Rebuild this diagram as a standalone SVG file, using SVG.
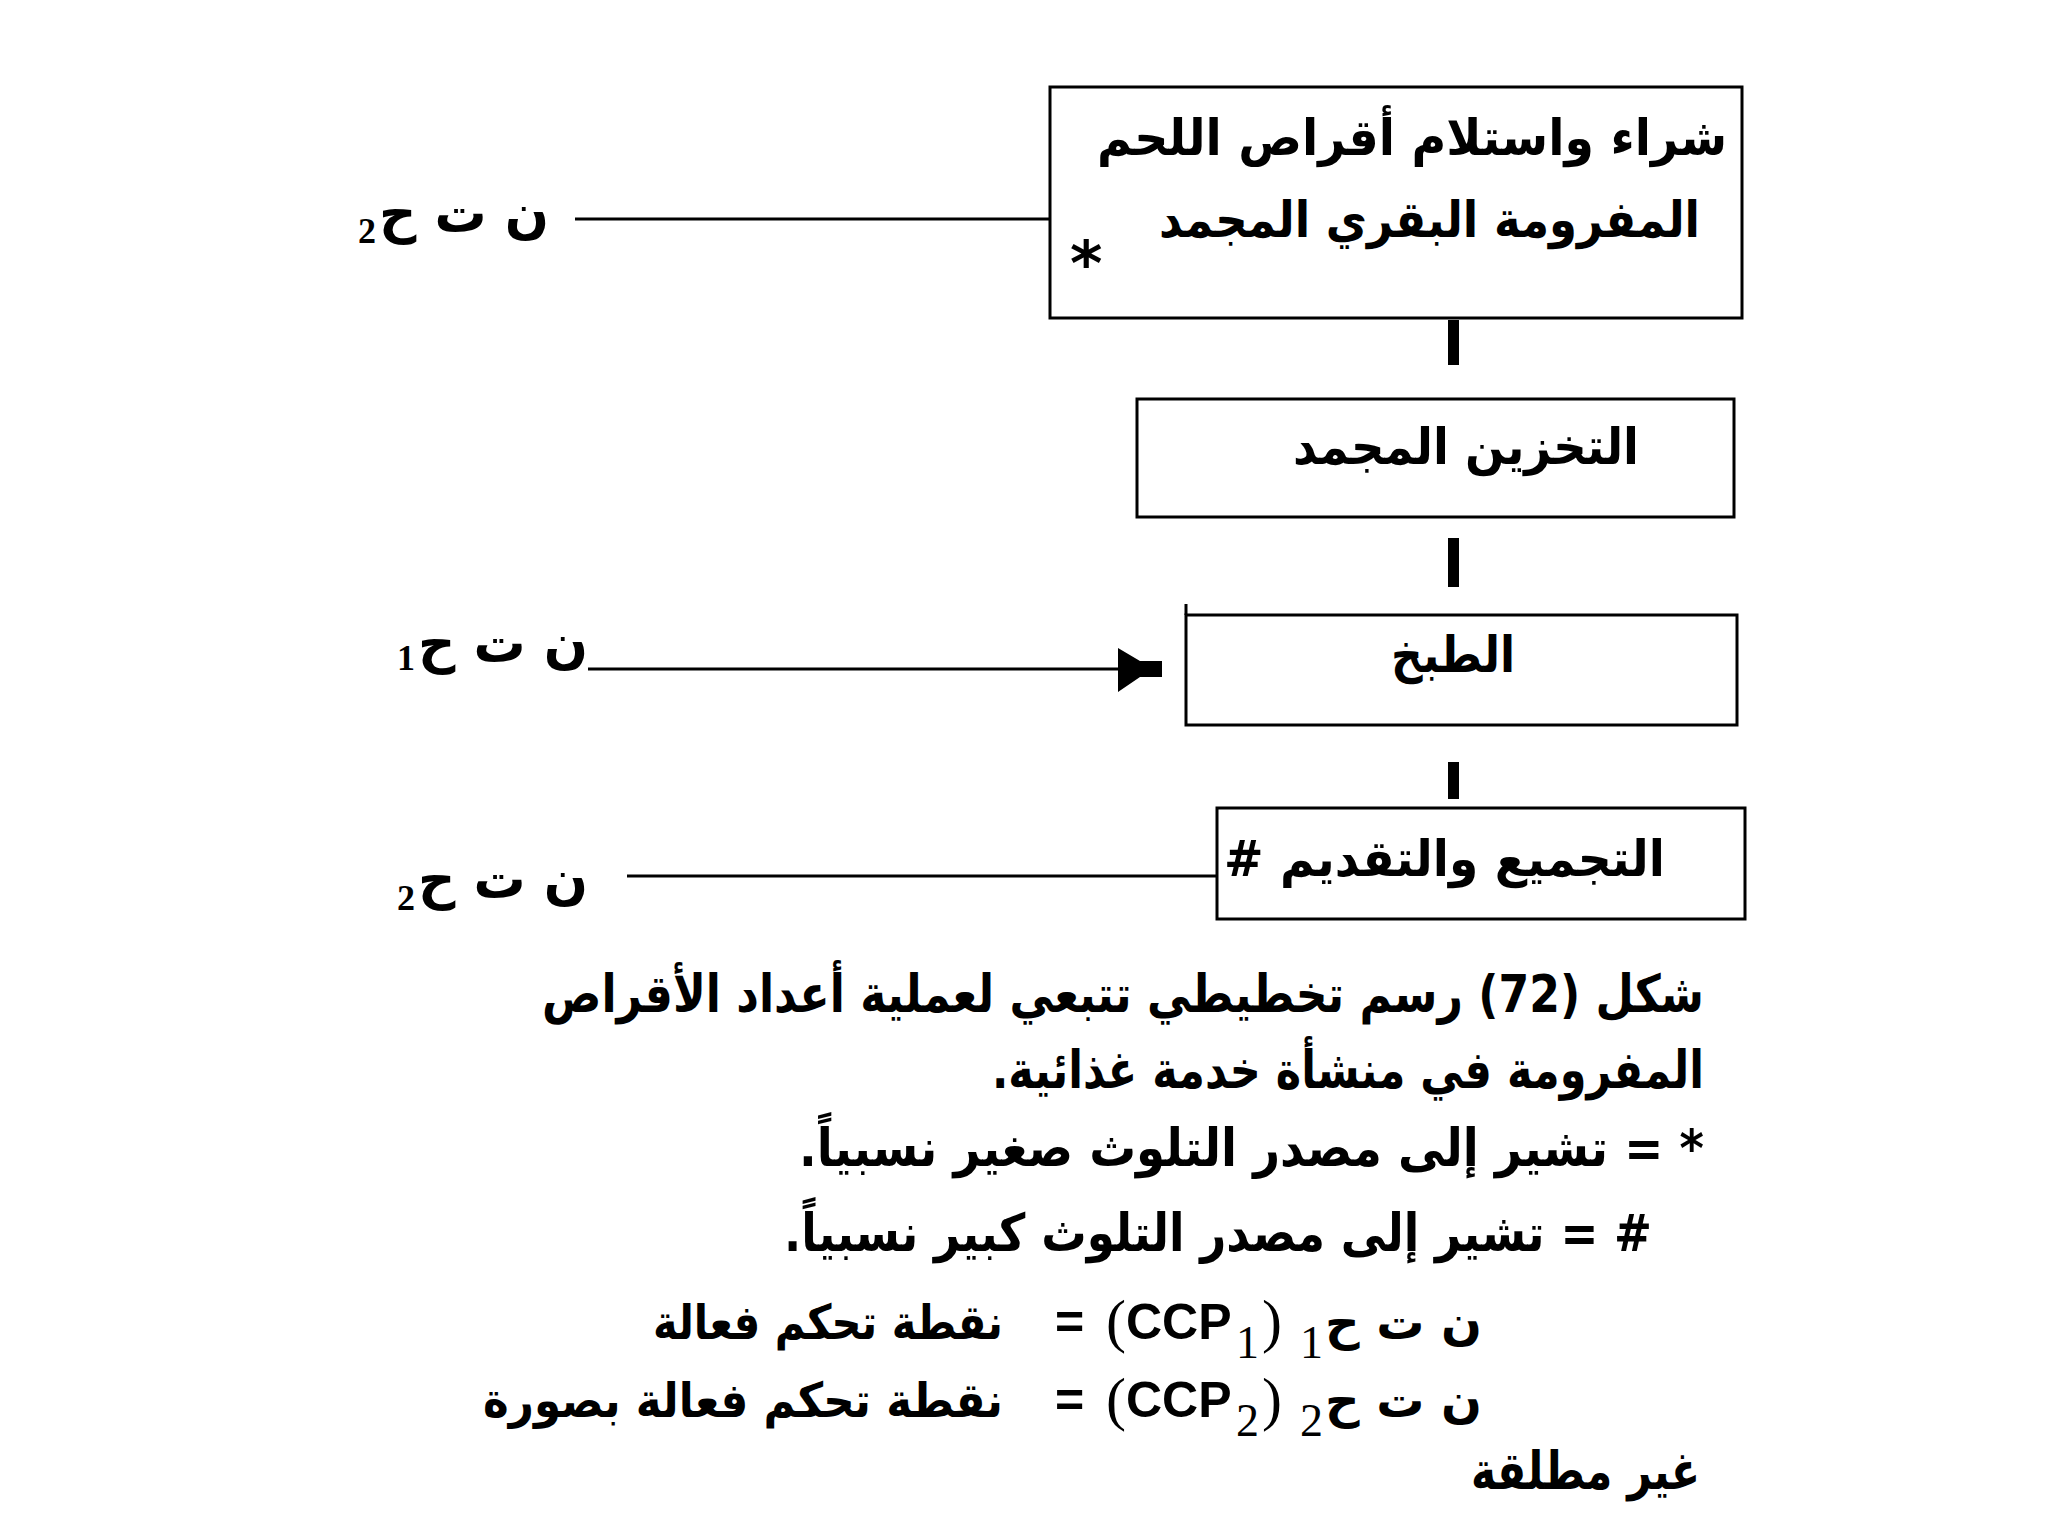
<svg xmlns="http://www.w3.org/2000/svg" width="2048" height="1536" viewBox="0 0 2048 1536">
<style>
.box{fill:none;stroke:#000;stroke-width:3}
.ln{stroke:#000;stroke-width:3;fill:none}
.bar{fill:#000}
.bt{font-family:"DejaVu Sans",sans-serif;font-weight:bold;font-size:50px;fill:#000;direction:rtl;text-anchor:start}
.lab{font-family:"DejaVu Sans",sans-serif;font-weight:bold;font-size:54px;fill:#000;direction:rtl;text-anchor:start}
.sub{font-family:"Liberation Serif",serif;font-weight:bold;font-size:36px;fill:#000}
.cap{font-family:"DejaVu Sans",sans-serif;font-weight:bold;font-size:52px;fill:#000;direction:rtl;text-anchor:start}
.capl{font-family:"DejaVu Sans",sans-serif;font-weight:bold;font-size:48px;fill:#000}
.lat{font-family:"Liberation Sans",sans-serif;font-weight:bold;font-size:50px;fill:#000}
.ser{font-family:"Liberation Serif",serif;font-size:60px;fill:#000}
.sser{font-family:"Liberation Serif",serif;font-size:46px;fill:#000}
</style>
<rect width="2048" height="1536" fill="#fff"/>
<g id="connectors">
<line class="ln" x1="575" y1="219" x2="1050" y2="219"/>
<line class="ln" x1="588" y1="669" x2="1125" y2="669"/>
<polygon points="1118,648 1140,661 1162,661 1162,677 1140,677 1118,692" fill="#000"/>
<line class="ln" x1="627" y1="876" x2="1217" y2="876"/>
<rect class="bar" x="1448" y="320" width="11" height="45"/>
<rect class="bar" x="1448" y="538" width="11" height="49"/>
<rect class="bar" x="1448" y="762" width="11" height="37"/>
</g>
<g id="node-purchase">
<rect class="box" x="1050" y="87" width="692" height="231"/>
<text class="bt" x="1727" y="155" textLength="630" lengthAdjust="spacingAndGlyphs">شراء واستلام أقراص اللحم</text>
<text class="bt" x="1700" y="237" textLength="541" lengthAdjust="spacingAndGlyphs">المفرومة البقري المجمد</text>
<text x="1070" y="285" font-family="DejaVu Sans,sans-serif" font-weight="bold" font-size="62">*</text>
</g>
<g id="node-storage">
<rect class="box" x="1137" y="399" width="597" height="118"/>
<text class="bt" x="1639" y="464" textLength="346" lengthAdjust="spacingAndGlyphs">التخزين المجمد</text>
</g>
<g id="node-cooking">
<rect class="box" x="1186" y="615" width="551" height="110"/>
<line class="ln" x1="1186" y1="604" x2="1186" y2="615"/>
<text class="bt" x="1515" y="672" textLength="124" lengthAdjust="spacingAndGlyphs">الطبخ</text>
</g>
<g id="node-serving">
<rect class="box" x="1217" y="808" width="528" height="111"/>
<text class="bt" x="1665" y="876" textLength="441" lengthAdjust="spacingAndGlyphs">التجميع والتقديم #</text>
</g>
<g id="label-ccp2-top">
<text class="lab" x="549" y="232" textLength="170" lengthAdjust="spacingAndGlyphs">ن ت ح</text>
<text class="sub" x="358" y="243">2</text>
</g>
<g id="label-ccp1">
<text class="lab" x="588" y="662" textLength="170" lengthAdjust="spacingAndGlyphs">ن ت ح</text>
<text class="sub" x="397" y="670">1</text>
</g>
<g id="label-ccp2-bottom">
<text class="lab" x="588" y="898" textLength="170" lengthAdjust="spacingAndGlyphs">ن ت ح</text>
<text class="sub" x="397" y="910">2</text>
</g>
<g id="caption">
<text class="cap" x="1704" y="1012" textLength="1162" lengthAdjust="spacingAndGlyphs">شكل (72) رسم تخطيطي تتبعي لعملية أعداد الأقراص</text>
<text class="cap" x="1704" y="1088" textLength="712" lengthAdjust="spacingAndGlyphs">المفرومة في منشأة خدمة غذائية.</text>
<text class="cap" x="1704" y="1166" textLength="905" lengthAdjust="spacingAndGlyphs">* = تشير إلى مصدر التلوث صغير نسبياً.</text>
<text class="cap" x="1652" y="1251" textLength="868" lengthAdjust="spacingAndGlyphs">#  = تشير إلى مصدر التلوث كبير نسبياً.</text>
<text class="capl" x="1325" y="1339" textLength="157" lengthAdjust="spacingAndGlyphs" font-size="52">ن ت ح</text>
<text class="sser" x="1300" y="1358">1</text>
<text class="ser" x="1106" y="1341">(</text>
<text class="lat" x="1126" y="1339">CCP</text>
<text class="sser" x="1236" y="1358">1</text>
<text class="ser" x="1262" y="1341">)</text>
<text class="lat" x="1055" y="1339">=</text>
<text class="capl" x="653" y="1339" textLength="350" lengthAdjust="spacingAndGlyphs">نقطة تحكم فعالة</text>
<text class="capl" x="1325" y="1417" textLength="157" lengthAdjust="spacingAndGlyphs" font-size="52">ن ت ح</text>
<text class="sser" x="1300" y="1436">2</text>
<text class="ser" x="1106" y="1419">(</text>
<text class="lat" x="1126" y="1417">CCP</text>
<text class="sser" x="1236" y="1436">2</text>
<text class="ser" x="1262" y="1419">)</text>
<text class="lat" x="1055" y="1417">=</text>
<text class="capl" x="483" y="1417" textLength="520" lengthAdjust="spacingAndGlyphs">نقطة تحكم فعالة بصورة</text>
<text class="cap" x="1700" y="1489" textLength="229" lengthAdjust="spacingAndGlyphs">غير مطلقة</text>
</g>
</svg>
